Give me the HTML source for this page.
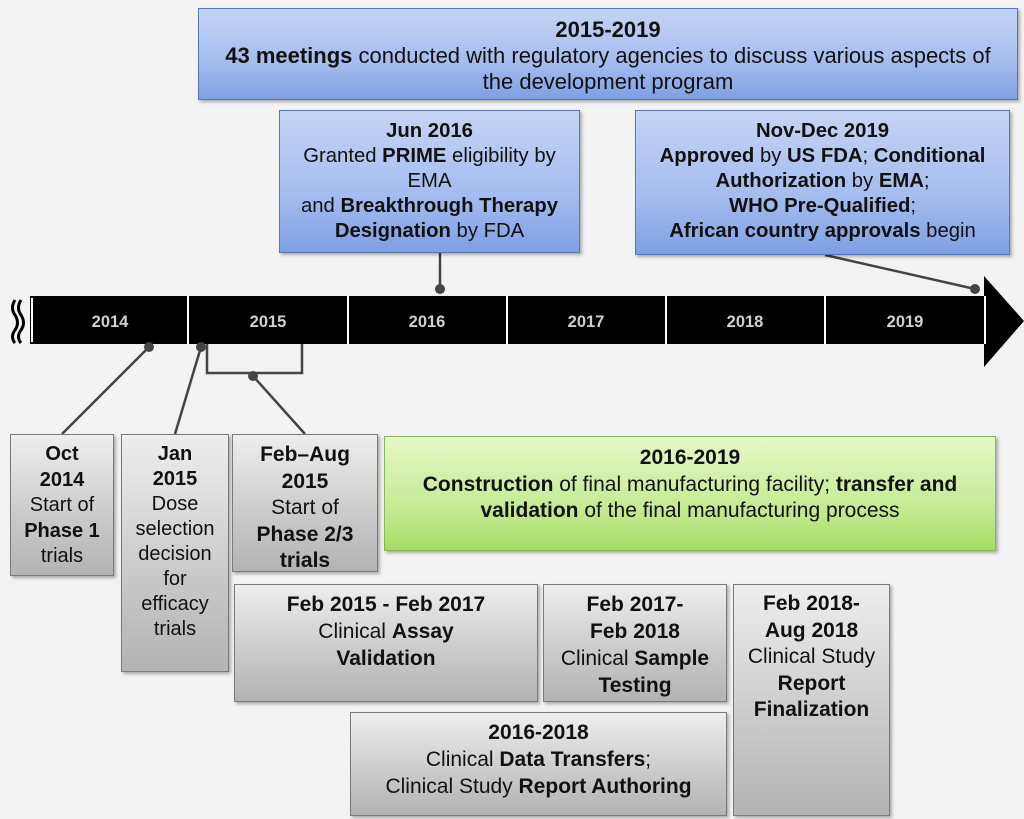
<!DOCTYPE html>
<html><head><meta charset="utf-8"><style>
body{margin:0;width:1024px;height:819px;background:#f3f3f3;position:relative;overflow:hidden;font-family:"Liberation Sans",sans-serif;color:#111}
.b{position:absolute;box-sizing:border-box;text-align:center;font-size:21px;line-height:25px;padding-top:6px;box-shadow:2px 2px 3px rgba(0,0,0,.3)}
.g{background:linear-gradient(#eeeeee,#c9c9c9 60%,#b3b3b3);border:1.5px solid #7a7a7a}
.bl{background:linear-gradient(#c4d4f4,#a4bcee 60%,#7f9fe4);border:1.5px solid #5877b8;font-size:20.3px}
.gr{background:linear-gradient(#e6f7c8,#c6ec96 60%,#a6dc66);border:1.5px solid #88b855}
.s{font-size:20px}
b{font-weight:bold}
</style></head><body>
<svg width="1024" height="819" style="position:absolute;left:0;top:0">
<rect x="30" y="296" width="956" height="48" fill="#000"/>
<polygon points="984,276 1024,321 984,367" fill="#000"/>
<g stroke="#fff" stroke-width="2"><line x1="32" y1="298" x2="32" y2="342"/><line x1="188" y1="296" x2="188" y2="344"/><line x1="348" y1="296" x2="348" y2="344"/><line x1="507" y1="296" x2="507" y2="344"/><line x1="666" y1="296" x2="666" y2="344"/><line x1="825" y1="296" x2="825" y2="344"/><line x1="985" y1="296" x2="985" y2="344"/></g>
<g stroke="#000" stroke-width="3" fill="none"><path d="M15,300 q-5,8 0,15 q5,8 0,15 q-5,7 0,13"/><path d="M21,300 q-5,8 0,15 q5,8 0,15 q-5,7 0,13"/></g>
<g font-family="Liberation Sans" font-weight="bold" font-size="16.5" fill="#d0d0d0" text-anchor="middle">
<text x="110" y="327">2014</text><text x="268" y="327">2015</text><text x="427" y="327">2016</text><text x="586" y="327">2017</text><text x="745" y="327">2018</text><text x="905" y="327">2019</text></g>
<g stroke="#444" stroke-width="2.5" fill="none">
<line x1="440" y1="253" x2="440" y2="289"/><line x1="825" y1="255" x2="975" y2="289"/>
<line x1="149" y1="347" x2="62" y2="434"/><line x1="201" y1="347" x2="175" y2="434"/>
<path d="M207,344 V373 H302 V344"/><line x1="253" y1="376" x2="305" y2="434"/></g>
<g fill="#444"><circle cx="440" cy="289" r="5"/><circle cx="975" cy="289" r="5"/><circle cx="149" cy="347" r="5"/><circle cx="201" cy="347" r="5"/><circle cx="253" cy="376" r="5"/></g>
</svg>
<div class="b bl" style="left:198px;top:8px;width:820px;height:92px;font-size:22px;line-height:26px;padding-top:8px"><b>2015-2019</b><br><b>43 meetings</b> conducted with regulatory agencies to discuss various aspects of<br>the development program</div>
<div class="b bl" style="left:279px;top:110px;width:301px;height:143px;padding-top:8px"><b>Jun 2016</b><br>Granted <b>PRIME</b> eligibility by<br>EMA<br>and <b>Breakthrough Therapy<br>Designation</b> by FDA</div>
<div class="b bl" style="left:635px;top:110px;width:375px;height:145px;padding-top:8px"><b>Nov-Dec 2019</b><br><b>Approved</b> by <b>US FDA</b>; <b>Conditional<br>Authorization</b> by <b>EMA</b>;<br><b>WHO Pre-Qualified</b>;<br><b>African country approvals</b> begin</div>
<div class="b g s" style="left:10px;top:434px;width:104px;height:142px;line-height:25.5px;padding-top:7px"><b>Oct<br>2014</b><br>Start of<br><b>Phase 1</b><br>trials</div>
<div class="b g s" style="left:121px;top:434px;width:108px;height:238px;line-height:25px;padding-top:7px"><b>Jan<br>2015</b><br>Dose<br>selection<br>decision<br>for<br>efficacy<br>trials</div>
<div class="b g" style="left:232px;top:434px;width:146px;height:138px;line-height:26.5px;padding-top:7px"><b>Feb–Aug<br>2015</b><br>Start of<br><b>Phase 2/3<br>trials</b></div>
<div class="b gr" style="left:384px;top:436px;width:612px;height:115px;padding-top:8px;line-height:26.5px"><b>2016-2019</b><br><b>Construction</b> of final manufacturing facility; <b>transfer and<br>validation</b> of the final manufacturing process</div>
<div class="b g" style="left:234px;top:584px;width:304px;height:118px;line-height:27px;padding-top:6px"><b>Feb 2015 - Feb 2017</b><br>Clinical <b>Assay<br>Validation</b></div>
<div class="b g" style="left:543px;top:584px;width:184px;height:118px;line-height:27px;padding-top:6px"><b>Feb 2017-<br>Feb 2018</b><br>Clinical <b>Sample<br>Testing</b></div>
<div class="b g" style="left:733px;top:584px;width:157px;height:232px;line-height:26.5px;padding-top:6px"><b>Feb 2018-<br>Aug 2018</b><br>Clinical Study<br><b>Report<br>Finalization</b></div>
<div class="b g" style="left:350px;top:712px;width:377px;height:104px;line-height:27px;padding-top:6px"><b>2016-2018</b><br>Clinical <b>Data Transfers</b>;<br>Clinical Study <b>Report Authoring</b></div>
</body></html>
